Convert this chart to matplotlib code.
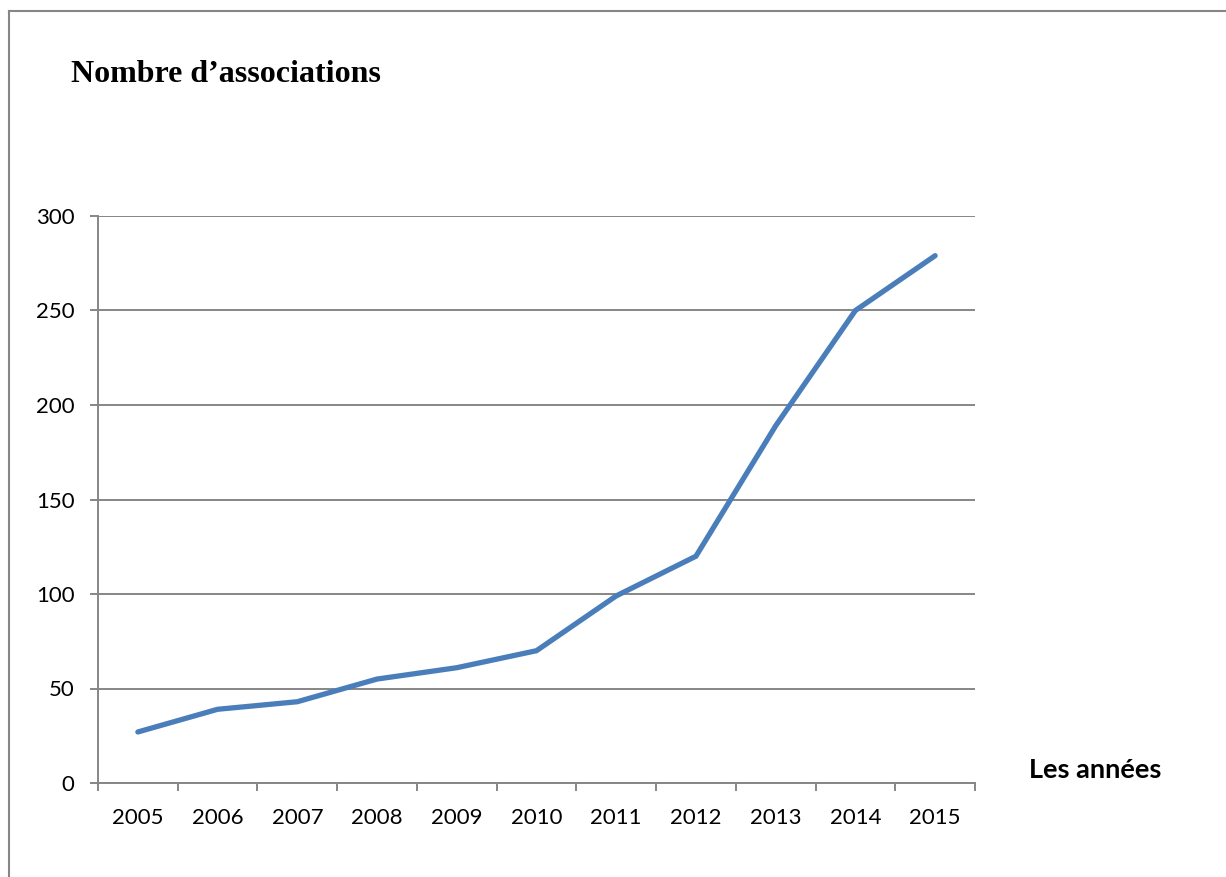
import matplotlib
matplotlib.use("Agg")
import matplotlib.pyplot as plt
from matplotlib.lines import Line2D

years = ["2005", "2006", "2007", "2008", "2009", "2010",
         "2011", "2012", "2013", "2014", "2015"]
associations = [27, 39, 43, 55, 61, 70, 99, 120, 189, 250, 279]
yticks = [0, 50, 100, 150, 200, 250, 300]

grey = "#868686"
blue = "#4a7ebb"

fig = plt.figure(figsize=(12.26, 8.77), dpi=100)
ax = fig.add_axes([98 / 1226, 1 - 783 / 877, 877 / 1226, 567 / 877])

xs = [i + 0.5 for i in range(len(years))]
ax.plot(xs, associations, color=blue, linewidth=3.8,
        solid_capstyle="round", solid_joinstyle="miter", zorder=3)

ax.set_xlim(0, len(years))
ax.set_ylim(0, 300)
ax.set_yticks(yticks)
ax.set_yticklabels([str(v) for v in yticks])
ax.yaxis.grid(True, color=grey, linewidth=1.4)
ax.set_axisbelow(True)

# category boundaries as major ticks, labels on the centres
ax.set_xticks(range(len(years) + 1))
ax.set_xticklabels([])
ax.set_xticks(xs, minor=True)
ax.set_xticklabels(years, minor=True)
ax.tick_params(axis="x", which="major", length=6, width=1.4, color=grey)
ax.tick_params(axis="x", which="minor", length=0, pad=18)
ax.tick_params(axis="y", length=6, width=1.4, color=grey, pad=11)
for lab in ax.get_xticklabels(minor=True) + ax.get_yticklabels():
    lab.set_fontfamily("Lato")
    lab.set_fontsize(16)

for side in ["top", "right"]:
    ax.spines[side].set_visible(False)
for side in ["left", "bottom"]:
    ax.spines[side].set_color(grey)
    ax.spines[side].set_linewidth(1.4)

fig.text(71 / 1226, 1 - 82 / 877, "Nombre d\u2019associations",
         family="Liberation Serif", weight="bold", fontsize=23, va="baseline")
fig.text(1029 / 1226, 1 - 778 / 877, "Les ann\u00e9es",
         family="Lato", weight="bold", fontsize=19.5, va="baseline")

# outer frame (left and top edges only visible)
fig.add_artist(Line2D([9 / 1226, 9 / 1226], [0, 1 - 11 / 877],
                      transform=fig.transFigure, color=grey, linewidth=1.5))
fig.add_artist(Line2D([9 / 1226, 1], [1 - 11 / 877, 1 - 11 / 877],
                      transform=fig.transFigure, color=grey, linewidth=1.5))

fig.savefig("out.png", dpi=100)
